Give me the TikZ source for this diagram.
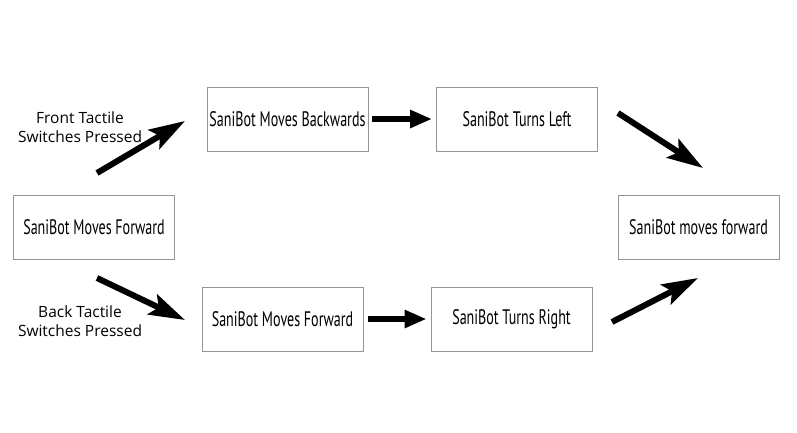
\documentclass[tikz,border=0pt]{standalone}
\usepackage{fontspec}
\usetikzlibrary{arrows.meta}
\setmainfont{Open Sans}
\newfontfamily\boxfont{PT Sans}[FakeStretch=0.67]

\begin{document}
\begin{tikzpicture}[x=1pt,y=-1pt,
  state/.style={draw=black!42,line width=0.8pt,minimum width=161pt,
    minimum height=64pt,inner sep=0pt,font=\boxfont\fontsize{21}{24}\selectfont},
  cause/.style={align=center,font=\fontsize{15.5}{19}\selectfont},
  flat/.style={line width=6pt,-{Triangle[length=22pt,width=17pt]}},
  slant/.style={line width=6pt,-{Stealth[length=36pt,width=22pt,inset=7pt]}}]
  \useasboundingbox (0,0) rectangle (797,432);
  \node[state] (fwd)   at (94,227.5)  {SaniBot Moves Forward};
  \node[state] (back)  at (287.5,119) {SaniBot Moves Backwards};
  \node[state] (left)  at (517,119)   {SaniBot Turns Left};
  \node[state] (rfwd)  at (698.5,227.5) {SaniBot moves forward};
  \node[state] (bfwd)  at (282.5,319) {SaniBot Moves Forward};
  \node[state] (right) at (511.5,319) {SaniBot Turns Right};
  \node[cause] (front) at (80,127) {Front Tactile\\Switches Pressed};
  \node[cause] (rear)  at (80,321) {Back Tactile\\Switches Pressed};
  \coordinate (ft) at (97,173);   \coordinate (fh) at (185,121);
  \coordinate (lt) at (618,113);  \coordinate (lh) at (703,168);
  \coordinate (bt) at (97,278);   \coordinate (bh) at (185,320);
  \coordinate (rt) at (612,322);  \coordinate (rh) at (698,278);
  \draw[slant] (ft) -- (fh);
  \draw[flat,shorten <=4pt,shorten >=4pt] (back) -- (left);
  \draw[slant] (lt) -- (lh);
  \draw[slant] (bt) -- (bh);
  \draw[flat,shorten <=5pt,shorten >=4pt] (bfwd) -- (right);
  \draw[slant] (rt) -- (rh);
\end{tikzpicture}
\end{document}
